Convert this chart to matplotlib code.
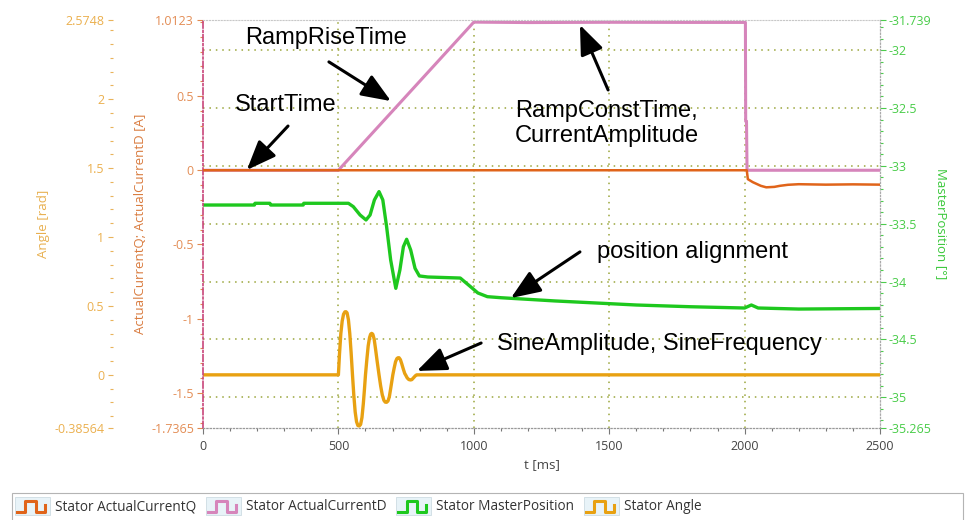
import numpy as np
import matplotlib
matplotlib.use('Agg')
import matplotlib.pyplot as plt
from matplotlib.ticker import MultipleLocator, FixedLocator
from matplotlib.legend_handler import HandlerBase
from matplotlib.patches import Rectangle
from matplotlib.lines import Line2D

plt.rcParams['font.family'] = ['Open Sans', 'DejaVu Sans']
plt.rcParams['axes.unicode_minus'] = False

# ---- data ----
t_q = [0, 2008, 2012, 2030, 2060, 2080, 2110, 2130, 2160, 2200, 2300, 2400, 2500]
current_q = [0, 0, -0.06, -0.08, -0.105, -0.115, -0.112, -0.105, -0.098, -0.094, -0.097, -0.095, -0.097]

t_d = [0, 500, 1000, 1200, 1500, 1800, 2003, 2004, 2007, 2009, 2500]
current_d = [0, 0, 0.998, 0.995, 0.997, 0.996, 0.996, 0.33, 0.33, 0, 0]

t_pos = [0, 190, 192, 247, 250, 370, 372, 537, 555, 580, 602, 617, 633, 650, 664, 678, 693,
         712, 727, 740, 752, 767, 783, 799, 830, 950, 985, 1015, 1050, 1100, 1300, 1600, 1800,
         2000, 2025, 2050, 2200, 2500]
master_pos = [-33.338, -33.338, -33.323, -33.323, -33.338, -33.338, -33.323, -33.323, -33.352,
              -33.424, -33.467, -33.424, -33.294, -33.222, -33.294, -33.525, -33.813, -34.058,
              -33.900, -33.698, -33.634, -33.727, -33.885, -33.951, -33.960, -33.969, -34.038,
              -34.098, -34.130, -34.139, -34.167, -34.202, -34.217, -34.228, -34.202, -34.228,
              -34.237, -34.232]

t_ang = [0, 500, 504, 509, 514, 519, 524, 528, 532, 537, 542, 547, 552, 557, 562, 567, 572, 577,
         582, 587, 592, 596, 600, 605, 610, 615, 619, 623, 627, 632, 637, 643, 650, 656, 662, 668,
         673, 678, 683, 688, 693, 697, 701, 706, 711, 716, 720, 724, 729, 734, 740, 745, 748, 754,
         760, 766, 771, 778, 784, 789, 2500]
angle = [0, 0, 0.15, 0.30, 0.39, 0.44, 0.457, 0.458, 0.45, 0.40, 0.30, 0.16, 0.0, -0.15, -0.27,
         -0.34, -0.368, -0.371, -0.36, -0.31, -0.21, -0.11, 0.0, 0.11, 0.21, 0.27, 0.295, 0.301,
         0.295, 0.26, 0.19, 0.10, 0.0, -0.08, -0.145, -0.185, -0.198, -0.199, -0.19, -0.16, -0.10,
         -0.05, 0.0, 0.05, 0.095, 0.118, 0.124, 0.124, 0.11, 0.08, 0.04, 0.01, 0.0, -0.022,
         -0.034, -0.037, -0.035, -0.02, -0.007, 0.0, 0.0]

time_ticks = [0, 500, 1000, 1500, 2000, 2500]
cur_ticks = [-1.7365, -1.5, -1, -0.5, 0, 0.5, 1.0123]
cur_labels = ['-1.7365', '-1.5', '-1', '-0.5', '0', '0.5', '1.0123']
ang_ticks = [-0.38564, 0, 0.5, 1, 1.5, 2, 2.5748]
ang_labels = ['-0.38564', '0', '0.5', '1', '1.5', '2', '2.5748']
pos_ticks = [-35.265, -35, -34.5, -34, -33.5, -33, -32.5, -32, -31.739]
pos_labels = ['-35.265', '-35', '-34.5', '-34', '-33.5', '-33', '-32.5', '-32', '-31.739']

names = ['Stator ActualCurrentQ', 'Stator ActualCurrentD', 'Stator MasterPosition', 'Stator Angle']

c_q = '#e0641a'
c_d = '#d685bb'
c_pos = '#1ec81e'
c_ang = '#e8a112'
grid_c = '#9aa53a'
fs_tick = 9
fs_lab = 9.5


class StepHandler(HandlerBase):
    # little square-wave icon like the scope software legend
    def create_artists(self, legend, orig_handle, xdescent, ydescent, width, height, fontsize, trans):
        x0, y0 = -xdescent, -ydescent
        box = Rectangle((x0, y0 - 0.2 * height), width, 1.4 * height, facecolor='#e8f3f8',
                        edgecolor='#cddce3', lw=0.6, transform=trans)
        fx = [0.05, 0.3, 0.3, 0.6, 0.6, 0.86, 0.86]
        fy = [0.05, 0.05, 0.85, 0.85, 0.05, 0.05, 0.6]
        step = Line2D([x0 + f * width for f in fx], [y0 + f * height for f in fy],
                      color=orig_handle.get_color(), lw=2.2, transform=trans)
        return [box, step]


fig = plt.figure(figsize=(9.7, 5.2), dpi=100)
ax = fig.add_axes([203 / 970, 1 - 428 / 520, 677 / 970, 408 / 520])
axA = ax.twinx()
axP = ax.twinx()
axP.set_zorder(0)
axA.set_zorder(1)
ax.set_zorder(2)
ax.patch.set_visible(False)

lq, = ax.plot(t_q, current_q, color=c_q, lw=1.8, zorder=3)
ld, = ax.plot(t_d, current_d, color=c_d, lw=2.2, zorder=2)
lp, = axP.plot(t_pos, master_pos, color=c_pos, lw=2.4)
la, = axA.plot(t_ang, angle, color=c_ang, lw=2.4)

ax.set_xlim(0, 2500)
ax.set_ylim(-1.7365, 1.0123)
axA.set_ylim(-0.38564, 2.5748)
axP.set_ylim(-35.265, -31.739)

# x axis
ax.xaxis.set_major_locator(FixedLocator(time_ticks))
ax.set_xticklabels([str(t) for t in time_ticks])
ax.xaxis.set_minor_locator(MultipleLocator(100))
ax.tick_params(axis='x', which='major', length=4, width=0.8, color='#777777', labelsize=fs_tick,
               labelcolor='#444444', pad=5)
ax.tick_params(axis='x', which='minor', length=2.5, width=0.8, color='#777777')
ax.set_xlabel('t [ms]', fontsize=fs_lab, color='#444444', labelpad=3)

# current axis (inner left)
ax.set_yticks(cur_ticks)
ax.set_yticklabels(cur_labels)
ax.yaxis.set_minor_locator(MultipleLocator(0.1))
ax.tick_params(axis='y', which='major', length=4.5, width=0.8, color='#e08a50', labelsize=fs_tick,
               labelcolor='#e38d55', pad=2)
ax.tick_params(axis='y', which='minor', length=2.5, width=0.8, color='#e08a50')
ax.set_ylabel('ActualCurrentQ; ActualCurrentD [A]', fontsize=fs_lab, color='#d97b3e', labelpad=3)

# angle axis (outer left)
axA.yaxis.set_ticks_position('left')
axA.yaxis.set_label_position('left')
axA.spines['left'].set_position(('outward', 64.8))
for s in axA.spines.values():
    s.set_visible(False)
axA.set_yticks(ang_ticks)
axA.set_yticklabels(ang_labels)
axA.yaxis.set_minor_locator(MultipleLocator(0.1))
axA.tick_params(axis='y', which='major', length=3.8, width=0.8, color='#e9b35a', labelsize=fs_tick,
                labelcolor='#ebb04f', pad=2.5)
axA.tick_params(axis='y', which='minor', length=2.2, width=0.8, color='#e9b35a')
axA.set_ylabel('Angle [rad]', fontsize=fs_lab, color='#e8b050', labelpad=3)

# master position axis (right) carries the grid
axP.set_yticks(pos_ticks)
axP.set_yticklabels(pos_labels)
axP.yaxis.set_minor_locator(MultipleLocator(0.1))
axP.tick_params(axis='y', which='major', length=4, width=0.8, color='#4ccb4c', labelsize=fs_tick,
                labelcolor='#48cc48', pad=2)
axP.tick_params(axis='y', which='minor', length=2.2, width=0.8, color='#4ccb4c')
axP.set_ylabel('MasterPosition [°]', fontsize=fs_lab, color='#3cc83c', rotation=270, labelpad=12)
axP.xaxis.set_visible(True)
axP.tick_params(axis='x', which='both', bottom=False, top=False, labelbottom=False)
axP.grid(True, which='major', axis='both', color=grid_c, linestyle=(0, (1, 3.2)), lw=1.1)
axP.set_axisbelow(True)
fig.canvas.draw()
for tk in (axP.yaxis.get_major_ticks()[0], axP.yaxis.get_major_ticks()[-1],
           axP.xaxis.get_major_ticks()[0], axP.xaxis.get_major_ticks()[-1]):
    tk.gridline.set_visible(False)

# frame
ax.spines['left'].set_color('#c8457a')
ax.spines['left'].set_linestyle((0, (4, 1.5, 1, 1.5)))
ax.spines['left'].set_linewidth(1.2)
ax.spines['top'].set_color('#c8c8c8')
ax.spines['top'].set_linestyle(':')
ax.spines['top'].set_linewidth(0.8)
ax.spines['bottom'].set_color('#999999')
ax.spines['bottom'].set_linestyle(':')
ax.spines['bottom'].set_linewidth(0.9)
ax.spines['right'].set_visible(False)
for k in ('top', 'bottom', 'left'):
    axP.spines[k].set_visible(False)
axP.spines['right'].set_color('#aaaaaa')
axP.spines['right'].set_linestyle(':')
axP.spines['right'].set_linewidth(0.9)

# annotations
txt = dict(fontsize=17, family='Liberation Sans', color='black', ha='left', va='center')
arr = dict(arrowstyle='-|>,head_length=0.9,head_width=0.36', mutation_scale=20, lw=2.2,
           color='black', shrinkA=0, shrinkB=0)
ax.text(155, 0.891, 'RampRiseTime', **txt)
ax.annotate('', xy=(694, 0.466), xytext=(465, 0.730), arrowprops=arr)
ax.text(118, 0.440, 'StartTime', **txt)
ax.annotate('', xy=(162, 0.002), xytext=(314, 0.298), arrowprops=arr)
ax.text(1152, 0.315, 'RampConstTime,\nCurrentAmplitude', linespacing=1.15, **txt)
ax.annotate('', xy=(1392, 0.979), xytext=(1496, 0.541), arrowprops=arr)
ax.text(1455, -0.550, 'position alignment', **txt)
ax.annotate('', xy=(1137, -0.861), xytext=(1392, -0.550), arrowprops=arr)
ax.text(1086, -1.170, 'SineAmplitude, SineFrequency', **txt)
ax.annotate('', xy=(790, -1.352), xytext=(1027, -1.164), arrowprops=arr)

# legend strip at the bottom
fig.patches.append(Rectangle((12 / 970, -0.02), 951 / 970, (520 - 493) / 520 + 0.02,
                             transform=fig.transFigure, fill=False, edgecolor='#b4b4b4', lw=0.8))
fig.legend([lq, ld, lp, la], names, handler_map={Line2D: StepHandler()},
           loc='center left', bbox_to_anchor=(15 / 970, 1 - 507 / 520), ncol=4, frameon=False,
           fontsize=9.8, labelcolor='#333333', handlelength=2.55, handleheight=1.05,
           handletextpad=0.4, columnspacing=0.7, borderaxespad=0, borderpad=0)

fig.savefig('out.png', dpi=100)
